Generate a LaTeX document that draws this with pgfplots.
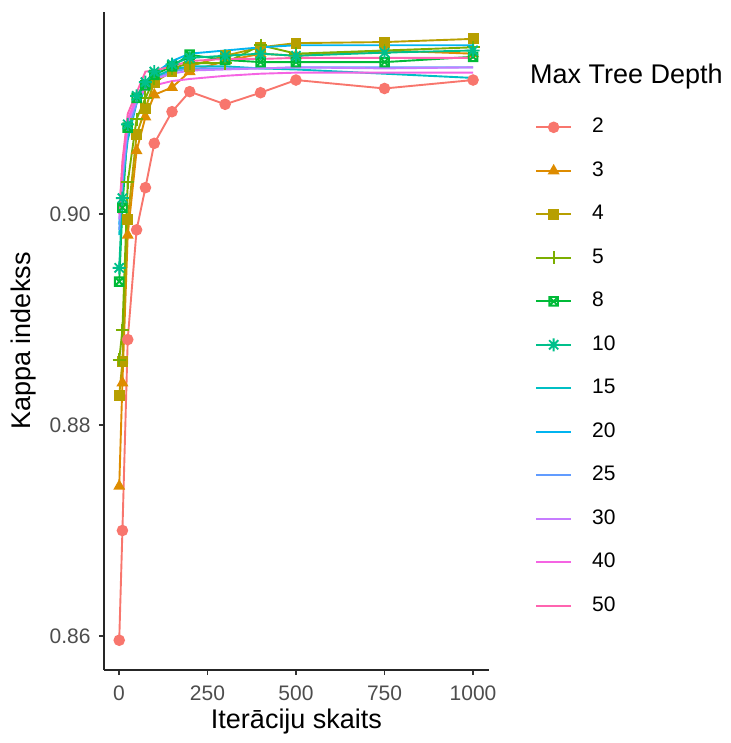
\documentclass[border=0pt]{standalone}
\usepackage{fontspec}
\setmainfont{Liberation Sans}
\usepackage{pgfplots}
\pgfplotsset{compat=1.18}
\usepackage{pgfplotstable}

\definecolor{c2}{HTML}{F8766D}
\definecolor{c3}{HTML}{DE8C00}
\definecolor{c4}{HTML}{B79F00}
\definecolor{c5}{HTML}{7CAE00}
\definecolor{c8}{HTML}{00BA38}
\definecolor{c10}{HTML}{00C08B}
\definecolor{c15}{HTML}{00BFC4}
\definecolor{c20}{HTML}{00B4F0}
\definecolor{c25}{HTML}{619CFF}
\definecolor{c30}{HTML}{C77CFF}
\definecolor{c40}{HTML}{F564E3}
\definecolor{c50}{HTML}{FF64B0}
\definecolor{tickgray}{HTML}{4D4D4D}
\definecolor{tickline}{HTML}{333333}

\pgfdeclareplotmark{boxx}{%
  \pgfpathrectangle{\pgfpoint{-\pgfplotmarksize}{-\pgfplotmarksize}}{\pgfpoint{2\pgfplotmarksize}{2\pgfplotmarksize}}%
  \pgfpathmoveto{\pgfpoint{-\pgfplotmarksize}{-\pgfplotmarksize}}\pgfpathlineto{\pgfpoint{\pgfplotmarksize}{\pgfplotmarksize}}%
  \pgfpathmoveto{\pgfpoint{-\pgfplotmarksize}{\pgfplotmarksize}}\pgfpathlineto{\pgfpoint{\pgfplotmarksize}{-\pgfplotmarksize}}%
  \pgfusepathqstroke}
\pgfdeclareplotmark{ast8}{%
  \pgfpathmoveto{\pgfpoint{-\pgfplotmarksize}{0pt}}\pgfpathlineto{\pgfpoint{\pgfplotmarksize}{0pt}}%
  \pgfpathmoveto{\pgfpoint{0pt}{-\pgfplotmarksize}}\pgfpathlineto{\pgfpoint{0pt}{\pgfplotmarksize}}%
  \pgfpathmoveto{\pgfpoint{-0.707\pgfplotmarksize}{-0.707\pgfplotmarksize}}\pgfpathlineto{\pgfpoint{0.707\pgfplotmarksize}{0.707\pgfplotmarksize}}%
  \pgfpathmoveto{\pgfpoint{-0.707\pgfplotmarksize}{0.707\pgfplotmarksize}}\pgfpathlineto{\pgfpoint{0.707\pgfplotmarksize}{-0.707\pgfplotmarksize}}%
  \pgfusepathqstroke}

% x = iterations; columns = max tree depth
\pgfplotstableread{
x    d2     d3     d4     d5     d8     d10    d15    d20    d25    d30    d40    d50
1    0.8596 0.8742 0.8828 0.8862 0.8936 0.8949 0.8980 0.8990 0.8985 0.8995 0.9000 0.9000
10   0.8700 0.8840 0.8860 0.8890 0.9006 0.9015 0.9030 0.9035 0.9030 0.9040 0.9045 0.9050
25   0.8881 0.8980 0.8995 0.9030 0.9082 0.9085 0.9070 0.9080 0.9078 0.9085 0.9090 0.9095
50   0.8985 0.9060 0.9075 0.9090 0.9110 0.9112 0.9105 0.9108 0.9105 0.9108 0.9110 0.9115
75   0.9025 0.9092 0.9100 0.9110 0.9122 0.9125 0.9118 0.9120 0.9118 0.9120 0.9118 0.9135
100  0.9067 0.9113 0.9125 0.9128 0.9132 0.9135 0.9130 0.9133 0.9128 0.9128 0.9122 0.9136
150  0.9097 0.9120 0.9135 0.9138 0.9140 0.9142 0.9137 0.9145 0.9135 0.9133 0.9126 0.9140
200  0.9116 0.9135 0.9140 0.9143 0.9151 0.9148 0.9140 0.9152 0.9138 0.9136 0.9128 0.9145
300  0.9104 0.9145 0.9150 0.9143 0.9146 0.9150 0.9140 0.9155 0.9138 0.9137 0.9131 0.9147
400  0.9115 0.9152 0.9158 0.9160 0.9144 0.9152 0.9138 0.9158 0.9138 0.9138 0.9133 0.9147
500  0.9127 0.9150 0.9162 0.9152 0.9144 0.9150 0.9137 0.9160 0.9139 0.9139 0.9134 0.9148
750  0.9119 0.9155 0.9163 0.9155 0.9144 0.9153 0.9133 0.9160 0.9139 0.9138 0.9134 0.9148
1000 0.9127 0.9152 0.9166 0.9158 0.9149 0.9155 0.9129 0.9160 0.9139 0.9139 0.9134 0.9148
}\kappa

\begin{document}
\begin{tikzpicture}
\path[use as bounding box] (0,0) rectangle (730pt,743pt);
\begin{axis}[
  at={(104pt,73pt)}, anchor=south west,
  scale only axis, width=385pt, height=658pt,
  xmin=-42, xmax=1045, ymin=0.85678, ymax=0.91915,
  axis x line=bottom, axis y line=left,
  axis line style={-, line width=2pt, black!85},
  xtick={0,250,500,750,1000},
  ytick={0.86,0.88,0.90},
  yticklabels={0.86,0.88,0.90},
  tick align=outside, tick pos=left,
  major tick length=5pt,
  every tick/.style={tickline, line width=1.8pt},
  /pgf/number format/assume math mode=true,
  /pgf/number format/1000 sep={},
  ticklabel style={font=\fontsize{21}{25}\selectfont, text=tickgray},
  yticklabel style={xshift=-5pt},
  xticklabel style={yshift=-7pt},
  xlabel={Iterāciju skaits},
  ylabel={Kappa indekss},
  every axis x label/.style={at={(axis description cs:0.5,-0.079)}, anchor=center, font=\fontsize{27}{32}\selectfont},
  every axis y label/.style={at={(axis description cs:-0.208,0.5)}, rotate=90, anchor=center, font=\fontsize{27}{32}\selectfont},
  clip=false,
  every axis plot post/.append style={line width=1.9pt, mark options={solid}},
  legend image code/.code={\draw[mark repeat=2,mark phase=2] plot coordinates {(0pt,0pt) (17.5pt,0pt) (35pt,0pt)};},
  legend cell align=left,
  legend style={at={(axis description cs:1.1195,0.841)}, anchor=north west, draw=none, fill=none,
    inner sep=0pt, row sep=22.5pt, column sep=20pt,
    font=\fontsize{21}{25}\selectfont,
    nodes={inner sep=0pt, text height=16pt, text depth=5pt}},
]
\addplot[c2, mark=*, mark size=4.8pt] table[x=x,y=d2] {\kappa}; \addlegendentry{2}
\addplot[c3, mark=triangle*, mark size=5pt] table[x=x,y=d3] {\kappa}; \addlegendentry{3}
\addplot[c4, mark=square*, mark size=4.5pt] table[x=x,y=d4] {\kappa}; \addlegendentry{4}
\addplot[c5, mark=+, mark size=6.5pt] table[x=x,y=d5] {\kappa}; \addlegendentry{5}
\addplot[c8, mark=boxx, mark size=4.3pt] table[x=x,y=d8] {\kappa}; \addlegendentry{8}
\addplot[c10, mark=ast8, mark size=6.5pt] table[x=x,y=d10] {\kappa}; \addlegendentry{10}
\addplot[c15] table[x=x,y=d15] {\kappa}; \addlegendentry{15}
\addplot[c20] table[x=x,y=d20] {\kappa}; \addlegendentry{20}
\addplot[c25] table[x=x,y=d25] {\kappa}; \addlegendentry{25}
\addplot[c30] table[x=x,y=d30] {\kappa}; \addlegendentry{30}
\addplot[c40] table[x=x,y=d40] {\kappa}; \addlegendentry{40}
\addplot[c50] table[x=x,y=d50] {\kappa}; \addlegendentry{50}
\end{axis}
\node[anchor=base west, font=\fontsize{27}{32}\selectfont, inner sep=0pt] at (530pt,659pt) {Max Tree Depth};
\end{tikzpicture}
\end{document}
